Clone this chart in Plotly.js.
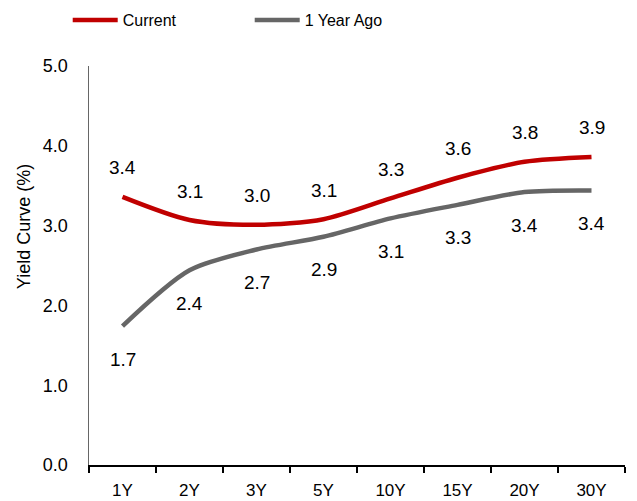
<!DOCTYPE html>
<html>
<head>
<meta charset="utf-8">
<script src="https://cdn.plot.ly/plotly-3.0.1.min.js"></script>
<style>
  html, body { margin: 0; padding: 0; background: #fff; }
  #chart { width: 637px; height: 501px; }
</style>
</head>
<body>
<div id="chart"></div>
<script>
// Treasury yield curve: tenors and yields (%)
const tenors = ["1Y", "2Y", "3Y", "5Y", "10Y", "15Y", "20Y", "30Y"];
const currentYields = [3.36, 3.07, 3.01, 3.08, 3.34, 3.60, 3.80, 3.86];
const yearAgoYields = [1.74, 2.44, 2.70, 2.86, 3.09, 3.26, 3.42, 3.44];
const seriesNames = ["Current", "1 Year Ago"];
const seriesColors = ["#C00000", "#666666"];
const yAxisTitle = "Yield Curve (%)";

const textFont = "Liberation Sans, Arial, sans-serif";

const traces = [currentYields, yearAgoYields].map((ys, i) => ({
  type: "scatter",
  mode: "lines",
  name: seriesNames[i],
  x: tenors,
  y: ys,
  line: { color: seriesColors[i], width: 4.5, shape: "spline", smoothing: 0.8 },
  hoverinfo: "skip"
}));

// Value labels: current above the line, year-ago below
const annotations = [];
tenors.forEach((t, k) => {
  annotations.push({
    x: t, y: currentYields[k], xref: "x", yref: "y",
    text: currentYields[k].toFixed(1), showarrow: false,
    yshift: 29, font: { family: textFont, size: 19, color: "#000" }
  });
  annotations.push({
    x: t, y: yearAgoYields[k], xref: "x", yref: "y",
    text: yearAgoYields[k].toFixed(1), showarrow: false,
    yshift: -33, font: { family: textFont, size: 19, color: "#000" }
  });
});

// Vertical axis caption, set a little above the axis midpoint
annotations.push({
  xref: "paper", yref: "paper", x: 0, y: 0.596,
  xanchor: "center", yanchor: "middle",
  xshift: -65, textangle: -90, showarrow: false,
  text: yAxisTitle,
  font: { family: textFont, size: 18, color: "#000" }
});

const layout = {
  width: 637,
  height: 501,
  margin: { l: 89, r: 12, t: 66, b: 36 },
  paper_bgcolor: "#fff",
  plot_bgcolor: "#fff",
  showlegend: true,
  legend: {
    orientation: "h",
    xref: "container", x: 0.1063, xanchor: "left",
    yref: "container", y: 0.994, yanchor: "top",
    font: { family: textFont, size: 16, color: "#000" },
    itemwidth: 45,
    entrywidth: 122,
    tracegroupgap: 0,
    bgcolor: "rgba(0,0,0,0)"
  },
  xaxis: {
    type: "category",
    range: [-0.5, tenors.length - 0.5],
    showline: true, linecolor: "#000", linewidth: 1.5,
    ticks: "outside", tickson: "boundaries", ticklen: 6, tickcolor: "#000", tickwidth: 1.5,
    ticklabelstandoff: 9,
    showgrid: false, zeroline: false,
    tickfont: { family: textFont, size: 17, color: "#000" },
    fixedrange: true
  },
  yaxis: {
    range: [0, 5], dtick: 1, tickformat: ".1f",
    showline: true, linecolor: "#666", linewidth: 1.5,
    ticks: "", showgrid: false, zeroline: false,
    ticklabelstandoff: 16,
    tickfont: { family: textFont, size: 18, color: "#000" },
    fixedrange: true
  },
  annotations: annotations
};

Plotly.newPlot("chart", traces, layout, { staticPlot: true, displayModeBar: false });
</script>
</body>
</html>
